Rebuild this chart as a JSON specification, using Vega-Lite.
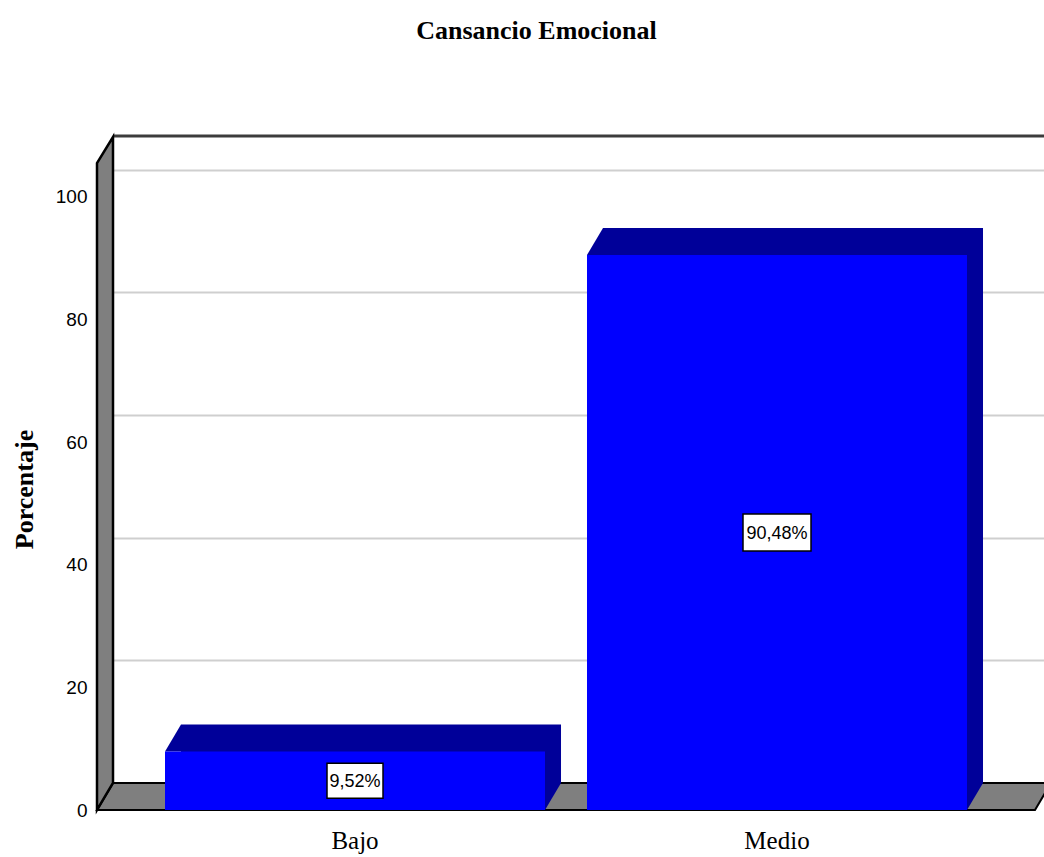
{
  "$schema": "https://vega.github.io/schema/vega-lite/v6.json",
  "width": 947,
  "height": 647,
  "autosize": "none",
  "padding": {"left": 97, "top": 163, "right": 0, "bottom": 47},
  "background": "white",
  "config": {"view": {"stroke": null}},
  "title": {
    "text": "Cansancio Emocional",
    "font": "Liberation Serif",
    "fontSize": 26,
    "fontWeight": "bold",
    "color": "black",
    "anchor": "middle",
    "frame": "group",
    "baseline": "alphabetic",
    "dx": -34,
    "offset": 67
  },
  "data": {"values": [
    {"cat": "Bajo", "value": 9.52, "label": "9,52%"},
    {"cat": "Medio", "value": 90.48, "label": "90,48%"}
  ]},
  "resolve": {
    "scale": {"x": "independent", "y": "independent"},
    "axis": {"x": "independent", "y": "independent"}
  },
  "layer": [
    {
      "data": {"values": [{}]},
      "layer": [
        {
          "mark": {"type": "rule", "color": "#3c3c3c", "strokeWidth": 3, "xOffset": 16},
          "encoding": {
            "x": {"datum": 0, "type": "quantitative", "scale": {"domain": [0, 1], "nice": false, "zero": false}, "axis": null},
            "x2": {"datum": 1},
            "y": {"datum": 105.5, "type": "quantitative",
              "scale": {"domain": [-4.4026, 101.097], "nice": false, "zero": false},
              "axis": {"orient": "left", "grid": true, "values": [0, 20, 40, 60, 80, 100], "labels": false, "ticks": false, "domain": false, "title": null, "gridColor": "#cfcfcf", "gridWidth": 2}}
          }
        },
        {
          "mark": {"type": "point", "shape": "M 0 27 L 938 27 L 954 0 L 16 0 Z", "size": 4, "filled": true, "fill": "#7f7f7f", "stroke": "#000000", "strokeWidth": 2, "opacity": 1},
          "encoding": {
            "x": {"datum": 0, "type": "quantitative"},
            "y": {"datum": 0, "type": "quantitative"}
          }
        },
        {
          "mark": {"type": "point", "shape": "M 0 27 L 0 -620 L 16 -646 L 16 0 Z", "size": 4, "filled": true, "fill": "#7f7f7f", "stroke": "#000000", "strokeWidth": 2.5, "opacity": 1},
          "encoding": {
            "x": {"datum": 0, "type": "quantitative"},
            "y": {"datum": 0, "type": "quantitative"}
          }
        }
      ]
    },
    {
      "encoding": {
        "x": {"field": "cat", "type": "nominal", "sort": null,
          "scale": {"paddingInner": 0.0995, "paddingOuter": 0.1718, "align": 0.469},
          "axis": {"orient": "bottom", "title": null, "labelAngle": 0, "ticks": false, "tickSize": 0, "domain": false, "labelFont": "Liberation Serif", "labelFontSize": 25, "labelColor": "black", "labelBaseline": "alphabetic", "labelPadding": 38}},
        "y": {"field": "value", "type": "quantitative",
          "scale": {"domain": [0, 105.5], "nice": false, "zero": true},
          "axis": {"orient": "left", "grid": false, "values": [0, 20, 40, 60, 80, 100], "ticks": false, "tickSize": 0, "domain": false, "labelFont": "Liberation Sans", "labelFontSize": 19, "labelColor": "black", "labelPadding": 10,
            "title": "Porcentaje", "titleFont": "Liberation Serif", "titleFontSize": 26, "titleFontWeight": "bold", "titleColor": "black", "titleX": -73, "titleY": 326, "titleAngle": -90, "titleAlign": "center", "titleBaseline": "middle"}}
      },
      "layer": [
        {
          "mark": {"type": "bar", "color": "#000099", "xOffset": 16, "yOffset": -27, "y2Offset": -27},
          "encoding": {"y2": {"datum": 0}}
        },
        {
          "mark": {"type": "point", "shape": "M -190 0 L -174 -27 L -174 0 Z", "size": 4, "filled": true, "fill": "#000099", "strokeWidth": 0, "opacity": 1}
        },
        {
          "mark": {"type": "point", "shape": "M 190 0 L 206 -27 L 190 -27 Z", "size": 4, "filled": true, "fill": "#000099", "strokeWidth": 0, "opacity": 1},
          "encoding": {"y": {"datum": 0, "type": "quantitative"}}
        },
        {
          "mark": {"type": "bar", "color": "#0000ff"},
          "encoding": {"y2": {"datum": 0}}
        },
        {
          "mark": {"type": "point", "size": 4, "filled": true, "fill": "white", "stroke": "black", "strokeWidth": 1.5, "opacity": 1},
          "encoding": {
            "y": {"field": "value", "type": "quantitative", "stack": "zero", "bandPosition": 0.5},
            "shape": {"field": "cat", "type": "nominal", "legend": null,
              "scale": {"domain": ["Bajo", "Medio"], "range": ["M -28 -17.5 L 28 -17.5 L 28 17.5 L -28 17.5 Z", "M -34 -18.5 L 34 -18.5 L 34 18.5 L -34 18.5 Z"]}}
          }
        },
        {
          "mark": {"type": "text", "font": "Liberation Sans", "fontSize": 18, "color": "black", "align": "center", "baseline": "middle", "dy": 1},
          "encoding": {
            "y": {"field": "value", "type": "quantitative", "stack": "zero", "bandPosition": 0.5},
            "text": {"field": "label"}
          }
        }
      ]
    }
  ]
}
